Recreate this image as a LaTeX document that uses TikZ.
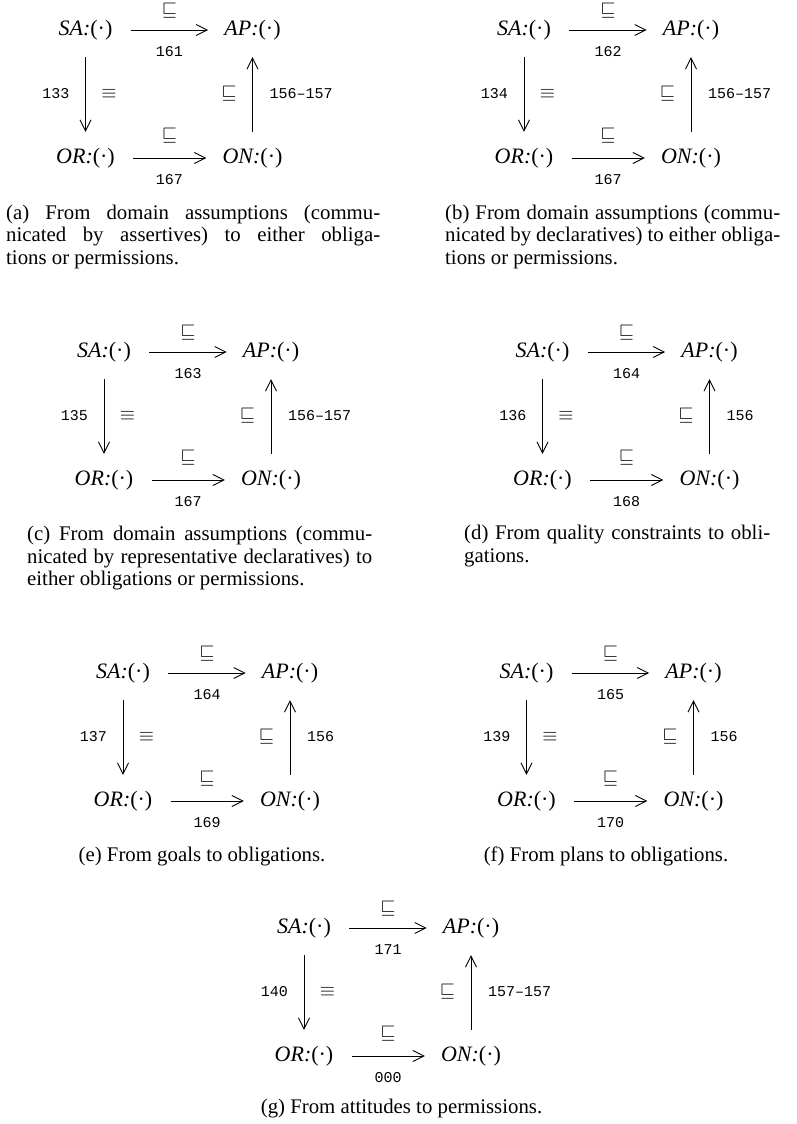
\documentclass[tikz,border=0pt]{standalone}
\usepackage{fontspec}
\setmainfont{Liberation Serif}
\setmonofont{Liberation Mono}
\usepackage{graphicx}
\usetikzlibrary{arrows.meta}
\tikzset{
  obj/.style={inner sep=0pt, text height=15pt, text depth=4pt, font=\fontsize{22}{24}\selectfont},
  rel/.style={inner sep=0pt},
  num/.style={inner sep=0pt, font=\fontsize{15}{17}\selectfont\ttfamily},
  arr/.style={-{Straight Barb[length=11pt,width=11pt]}, line width=0.9pt},
  hor/.style={arr, shorten <=18pt, shorten >=16pt},
  down/.style={arr, shorten <=17.5pt, shorten >=16.5pt},
  upw/.style={arr, shorten <=16.5pt, shorten >=17.5pt},
  capline/.style={anchor=base west, inner sep=0pt, font=\fontsize{20.8}{22.5}\selectfont},
  capcentre/.style={anchor=base, inner sep=0pt, font=\fontsize{20.8}{22.5}\selectfont}
}
\newcommand\sqs{\scalebox{1.95}{$\sqsubseteq$}}
\newcommand\eqv{\scalebox{1.95}{$\equiv$}}
\newcommand\pdot{(\textperiodcentered)}
\newcommand\cdpanel[7]{%
\begin{scope}[shift={(#2,#3)}]
  \node[obj] (#1SA) at (85.5,30) {\textit{SA:}\pdot};
  \node[obj] (#1AP) at (252.5,30) {\textit{AP:}\pdot};
  \node[obj] (#1OR) at (85.5,158) {\textit{OR:}\pdot};
  \node[obj] (#1ON) at (252.5,158) {\textit{ON:}\pdot};
  \draw[hor] (#1SA) -- (#1AP);
  \draw[hor] (#1OR) -- (#1ON);
  \draw[down] (#1SA) -- (#1OR);
  \draw[upw] (#1ON) -- (#1AP);
  \node[rel] (#1tr) at (169.5,10.5) {\sqs};
  \node[num] (#1tn) at (169.5,51.5) {#4};
  \node[rel] (#1br) at (169.5,136) {\sqs};
  \node[num] (#1bn) at (169.5,180) {#6};
  \node[num, anchor=east] (#1ln) at (69.5,94) {#5};
  \node[rel] (#1lr) at (109,94) {\eqv};
  \node[rel] (#1rr) at (229,94) {\sqs};
  \node[num, anchor=west] (#1rn) at (269.5,94) {#7};
\end{scope}}
\begin{document}
\begin{tikzpicture}[x=1pt,y=-1pt]
\useasboundingbox (0,0) rectangle (796,1124);
\cdpanel{a}{0}{0}{161}{133}{167}{156–157}
\cdpanel{b}{438.5}{0}{162}{134}{167}{156–157}
\cdpanel{c}{18.5}{322}{163}{135}{167}{156–157}
\cdpanel{d}{457}{322}{164}{136}{168}{156}
\cdpanel{e}{37.5}{643}{164}{137}{169}{156}
\cdpanel{f}{441}{643}{165}{139}{170}{156}
\cdpanel{g}{218.5}{898}{171}{140}{000}{157–157}
% captions
\node[capline] (capa1) at (6,219) {\makebox[374pt][s]{(a) From domain assumptions (commu-}};
\node[capline] (capa2) at (6,241.5) {\makebox[374pt][s]{nicated by assertives) to either obliga-}};
\node[capline] (capa3) at (6,264) {tions or permissions.};
\node[capline] (capb1) at (445,219) {\makebox[335pt][s]{(b) From domain assumptions (commu-}};
\node[capline] (capb2) at (445,241.5) {\makebox[335pt][s]{nicated by declaratives) to either obliga-}};
\node[capline] (capb3) at (445,264) {tions or permissions.};
\node[capline] (capc1) at (27,540.5) {\makebox[345pt][s]{(c) From domain assumptions (commu-}};
\node[capline] (capc2) at (27,563) {\makebox[345pt][s]{nicated by representative declaratives) to}};
\node[capline] (capc3) at (27,585.5) {either obligations or permissions.};
\node[capline] (capd1) at (464,539.5) {\makebox[306pt][s]{(d) From quality constraints to obli-}};
\node[capline] (capd2) at (464,562.5) {gations.};
\node[capcentre] (cape) at (202,861) {(e) From goals to obligations.};
\node[capcentre] (capf) at (606,861) {(f) From plans to obligations.};
\node[capcentre] (capg) at (401.5,1113) {(g) From attitudes to permissions.};
\end{tikzpicture}
\end{document}
